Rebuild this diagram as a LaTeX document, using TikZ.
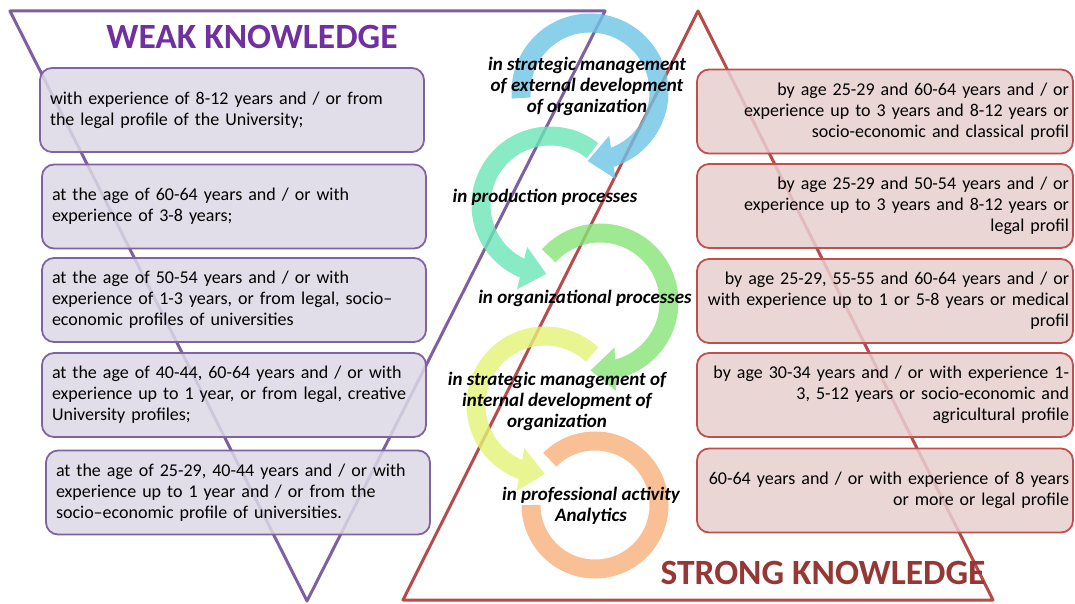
\documentclass[tikz,border=0pt]{standalone}
\usepackage{fontspec}
\setmainfont{Carlito}
\usetikzlibrary{arrows.meta,bending}
\definecolor{weakline}{HTML}{7E60A0}
\definecolor{weakfill}{HTML}{DDD8E5}
\definecolor{weakedge}{HTML}{8064A2}
\definecolor{weakhead}{HTML}{7030A0}
\definecolor{strongline}{HTML}{B84A4A}
\definecolor{strongfill}{HTML}{E8CFCF}
\definecolor{strongedge}{HTML}{C0504D}
\definecolor{stronghead}{HTML}{953735}
\definecolor{arrblue}{HTML}{6EC4E6}
\definecolor{arrteal}{HTML}{6CE6B6}
\definecolor{arrgreen}{HTML}{88E478}
\definecolor{arryellow}{HTML}{E4F276}
\definecolor{arrorange}{HTML}{F7B07A}
\tikzset{
  weakbox/.style={draw=weakedge,line width=1.8pt,fill=weakfill,fill opacity=0.85,text opacity=1,
    rounded corners=12pt,minimum width=384pt,minimum height=84pt,text width=364pt,
    inner xsep=10pt,align=left,font=\fontsize{18}{21}\selectfont},
  strongbox/.style={draw=strongedge,line width=1.8pt,fill=strongfill,fill opacity=0.85,text opacity=1,
    rounded corners=12pt,minimum width=376pt,minimum height=84pt,text width=368pt,
    inner xsep=4pt,align=right,font=\fontsize{18}{21}\selectfont},
  turnarrow/.style={line width=19pt,-{Triangle[width=42pt,length=25pt]}},
  stage/.style={align=center,font=\bfseries\itshape\fontsize{19}{21}\selectfont}
}
\begin{document}
\begin{tikzpicture}[line cap=round,line join=round,x=1pt,y=1pt]
  \useasboundingbox (0,0) rectangle (1075,603);
  \draw [line width=3pt,color=weakline] (10,592)-- (605,592)-- (307,2)-- cycle;
  \draw [line width=3pt,color=strongline] (698,592)-- (993,3)-- (403,3)-- cycle;
  \begin{scope}[transparency group,opacity=0.8,line cap=butt]
    \draw [turnarrow,color=arrblue] (590,511) ++(185:69) arc[start angle=185,end angle=-92,radius=69];
    \draw [turnarrow,color=arrteal] (550,398) ++(52:69) arc[start angle=52,end angle=267,radius=69];
    \draw [turnarrow,color=arrgreen] (600,301) ++(138:69) arc[start angle=138,end angle=-98,radius=69];
    \draw [turnarrow,color=arryellow] (545,198) ++(47:69) arc[start angle=47,end angle=270,radius=69];
    \draw [line width=19pt,color=arrorange] (595,98) ++(135:64) arc[start angle=135,end angle=-180,radius=64];
  \end{scope}
  \node[weakbox] (weak1) at (232,493) {with experience of 8-12 years and / or from\\the legal profile of the University;};
  \node[weakbox] (weak2) at (234,396.5) {at the age of 60-64 years and / or with\\experience of 3-8 years;};
  \node[weakbox] (weak3) at (234,303) {at the age of 50-54 years and / or with\\experience of 1-3 years, or from legal, socio–\\economic profiles of universities};
  \node[weakbox] (weak4) at (234,208) {at the age of 40-44, 60-64 years and / or with\\experience up to 1 year, or from legal, creative\\University profiles;};
  \node[weakbox] (weak5) at (238,110.5) {at the age of 25-29, 40-44 years and / or with\\experience up to 1 year and / or from the\\socio–economic profile of universities.};
  \node[strongbox] (strong1) at (885,491.5) {by age 25-29 and 60-64 years and / or\\experience up to 3 years and 8-12 years or\\socio-economic and classical profil};
  \node[strongbox] (strong2) at (885,397) {by age 25-29 and 50-54 years and / or\\experience up to 3 years and 8-12 years or\\legal profil};
  \node[strongbox] (strong3) at (885,302) {by age 25-29, 55-55 and 60-64 years and / or\\with experience up to 1 or 5-8 years or medical\\profil};
  \node[strongbox] (strong4) at (885,208) {by age 30-34 years and / or with experience 1-\\3, 5-12 years or socio-economic and\\agricultural profile};
  \node[strongbox] (strong5) at (885,112.5) {60-64 years and / or with experience of 8 years\\or more or legal profile};
  \node[stage] (extstage) at (587,517) {in strategic management\\of external development\\of organization};
  \node[stage] (prodstage) at (545,406) {in production processes};
  \node[stage] (orgstage) at (585,305) {in organizational processes};
  \node[stage] (intstage) at (557,202) {in strategic management of\\internal development of\\organization};
  \node[stage] (profstage) at (591,97) {in professional activity\\Analytics};
  \node[color=weakhead,font=\bfseries\fontsize{35.5}{38}\selectfont] (weakhead) at (252,566) {WEAK KNOWLEDGE};
  \node[color=stronghead,font=\bfseries\fontsize{35.5}{38}\selectfont] (stronghead) at (823,30) {STRONG KNOWLEDGE};
\end{tikzpicture}
\end{document}
